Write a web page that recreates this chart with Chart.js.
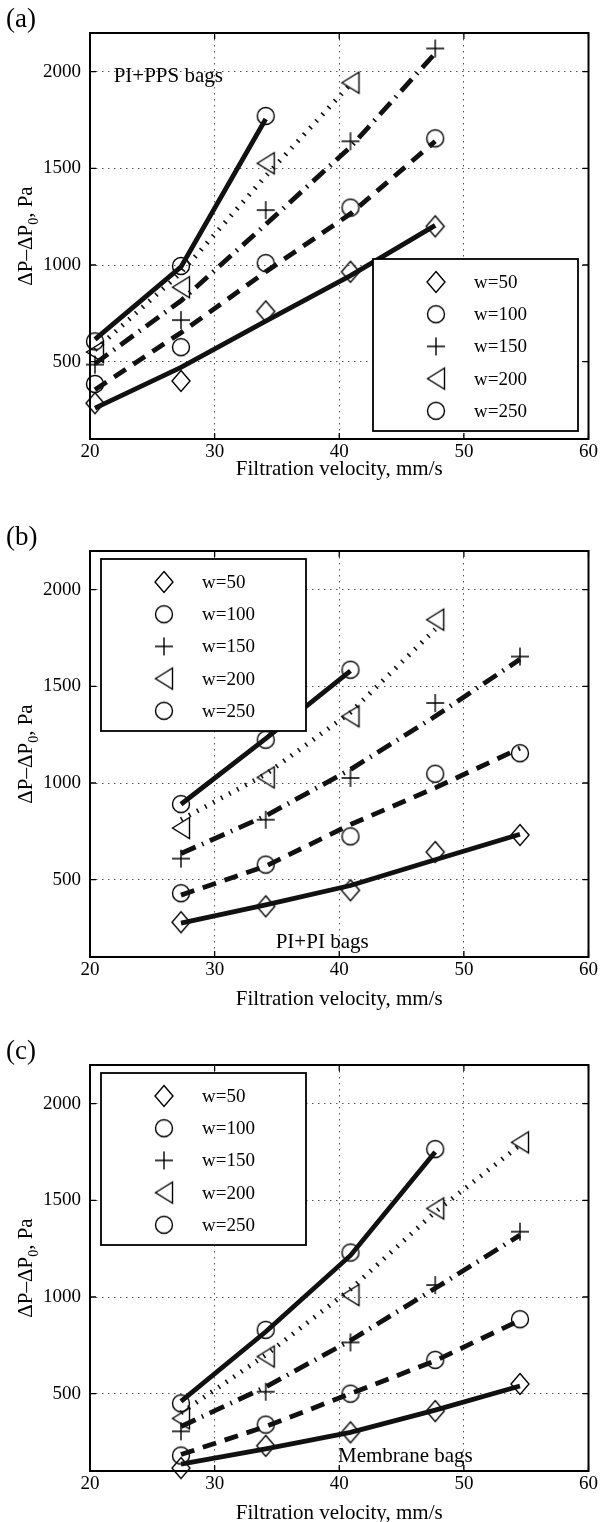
<!DOCTYPE html>
<html>
<head>
<meta charset="utf-8">
<script src="https://cdn.jsdelivr.net/npm/chart.js@4"></script>
<style>
  html, body { margin: 0; padding: 0; background: #fff; }
  body { width: 600px; height: 1522px; position: relative; overflow: hidden; }
  canvas { position: absolute; left: 0; }
</style>
</head>
<body>
<canvas id="panelA" width="600" height="500" style="top:0;width:600px;height:500px"></canvas>
<canvas id="panelB" width="600" height="514" style="top:518px;width:600px;height:514px"></canvas>
<canvas id="panelC" width="600" height="490" style="top:1032px;width:600px;height:490px"></canvas>
<script>
// axis ticks and legend labels
const X_TICKS = [20, 30, 40, 50, 60];
const Y_TICKS = [500, 1000, 1500, 2000];
const LEGEND_LABELS = ['w=50', 'w=100', 'w=150', 'w=200', 'w=250'];

// (a) PI+PPS bags
const A_X = [20.4, 27.3, 34.1, 40.9, 47.7];
const A_W50 = [285, 400, 760, 965, 1200];
const A_W100 = [385, 575, 1010, 1297, 1655];
const A_W150 = [485, 715, 1284, 1640, 2120];
const A_W200 = [550, 885, 1526, 1943];
const A_W250 = [605, 995, 1771];
const A_W50_FIT = [260, 470, 710, 945, 1205];
const A_W100_FIT = [355, 650, 965, 1265, 1640];
const A_W150_FIT = [490, 815, 1210, 1610, 2095];
const A_W200_FIT = [560, 960, 1460, 1935];
const A_W250_FIT = [615, 990, 1755];

// (b) PI+PI bags
const B_X = [27.3, 34.1, 40.9, 47.7, 54.5];
const B_W50 = [280, 362, 445, 643, 731];
const B_W100 = [430, 578, 724, 1048, 1154];
const B_W150 = [609, 810, 1026, 1414, 1654];
const B_W200 = [767, 1029, 1345, 1845];
const B_W250 = [891, 1224, 1586];
const B_W50_FIT = [275, 370, 470, 603, 735];
const B_W100_FIT = [420, 570, 785, 975, 1180];
const B_W150_FIT = [635, 830, 1070, 1345, 1640];
const B_W200_FIT = [810, 1045, 1365, 1795];
const B_W250_FIT = [890, 1230, 1580];

// (c) Membrane bags
const C_X = [27.3, 34.1, 40.9, 47.7, 54.5];
const C_W50 = [115, 230, 300, 410, 550];
const C_W100 = [180, 340, 500, 675, 885];
const C_W150 = [305, 510, 765, 1062, 1338];
const C_W200 = [372, 692, 1010, 1458, 1800];
const C_W250 = [450, 830, 1230, 1765];
const C_W50_FIT = [135, 215, 300, 415, 540];
const C_W100_FIT = [185, 330, 500, 670, 880];
const C_W150_FIT = [330, 535, 775, 1045, 1320];
const C_W200_FIT = [400, 700, 1040, 1440, 1785];
const C_W250_FIT = [460, 820, 1215, 1750];

const FONT = '"Liberation Serif", "Times New Roman", serif';
const SERIES_MARKER = ['diamond', 'circle', 'plus', 'triangle', 'circle'];
const SERIES_DASH = [[], [14, 9], [16, 7, 1.6, 7], [1.6, 7.5], []];

// hollow marker glyphs, matlab-ish
function makeMarker(kind) {
  const c = document.createElement('canvas');
  c.width = 22; c.height = 26;
  const g = c.getContext('2d');
  const cx = 11, cy = 13;
  g.strokeStyle = '#000';
  g.lineWidth = 1.4;
  g.beginPath();
  if (kind === 'diamond') {
    g.moveTo(cx, cy - 10.5); g.lineTo(cx + 9, cy); g.lineTo(cx, cy + 10.5); g.lineTo(cx - 9, cy); g.closePath();
  } else if (kind === 'circle') {
    g.arc(cx, cy, 8.5, 0, Math.PI * 2);
  } else if (kind === 'plus') {
    g.moveTo(cx - 9, cy); g.lineTo(cx + 9, cy); g.moveTo(cx, cy - 9); g.lineTo(cx, cy + 9);
  } else if (kind === 'triangle') {
    g.moveTo(cx - 8.5, cy); g.lineTo(cx + 8.5, cy - 10.5); g.lineTo(cx + 8.5, cy + 10.5); g.closePath();
  }
  g.stroke();
  return c;
}
const MARKERS = {
  diamond: makeMarker('diamond'),
  circle: makeMarker('circle'),
  plus: makeMarker('plus'),
  triangle: makeMarker('triangle')
};

const decorPlugin = {
  id: 'decor',
  afterDatasetsDraw(chart, args, o) {
    const ctx = chart.ctx;
    const area = chart.chartArea;
    const xs = chart.scales.x, ys = chart.scales.y;
    ctx.save();

    // box + inward ticks
    ctx.strokeStyle = '#000';
    ctx.lineWidth = 2;
    ctx.strokeRect(area.left, area.top, area.right - area.left, area.bottom - area.top);
    ctx.lineWidth = 1.3;
    ctx.beginPath();
    X_TICKS.forEach(v => {
      const px = xs.getPixelForValue(v);
      ctx.moveTo(px, area.bottom); ctx.lineTo(px, area.bottom - 6);
      ctx.moveTo(px, area.top); ctx.lineTo(px, area.top + 6);
    });
    Y_TICKS.forEach(v => {
      const py = ys.getPixelForValue(v);
      ctx.moveTo(area.left, py); ctx.lineTo(area.left + 6, py);
      ctx.moveTo(area.right, py); ctx.lineTo(area.right - 6, py);
    });
    ctx.stroke();

    // note inside the axes
    ctx.fillStyle = '#000';
    ctx.font = '21px ' + FONT;
    ctx.textAlign = 'left';
    ctx.textBaseline = 'alphabetic';
    ctx.fillText(o.note, xs.getPixelForValue(o.noteX), ys.getPixelForValue(o.noteY));

    // legend box
    const lx = area.left + o.legendLeft, ly = area.top + o.legendTop;
    ctx.fillStyle = '#fff';
    ctx.fillRect(lx, ly, 205, 172);
    ctx.lineWidth = 1.8;
    ctx.strokeStyle = '#000';
    ctx.strokeRect(lx, ly, 205, 172);
    ctx.font = '19px ' + FONT;
    ctx.textBaseline = 'middle';
    LEGEND_LABELS.forEach((lab, i) => {
      const cy = ly + 23 + i * 32.2;
      const m = MARKERS[SERIES_MARKER[i]];
      ctx.drawImage(m, lx + 63 - m.width / 2, cy - m.height / 2);
      ctx.fillStyle = '#000';
      ctx.fillText(lab, lx + 101, cy + 1);
    });

    // panel letter
    ctx.textBaseline = 'alphabetic';
    ctx.font = '27px ' + FONT;
    ctx.fillText(o.label, 6, area.top - 6);

    // x title
    ctx.font = '21px ' + FONT;
    ctx.textAlign = 'center';
    ctx.fillText('Filtration velocity, mm/s', (area.left + area.right) / 2, area.bottom + o.titleGap);

    // y title with subscript
    const parts = [['\u0394P\u2013\u0394P', 21, 0], ['0', 14, 6], [', Pa', 21, 0]];
    let total = 0;
    parts.forEach(p => { ctx.font = p[1] + 'px ' + FONT; total += ctx.measureText(p[0]).width; });
    ctx.translate(32, (area.top + area.bottom) / 2);
    ctx.rotate(-Math.PI / 2);
    ctx.textAlign = 'left';
    let cur = -total / 2;
    parts.forEach(p => {
      ctx.font = p[1] + 'px ' + FONT;
      ctx.fillText(p[0], cur, p[2]);
      cur += ctx.measureText(p[0]).width;
    });
    ctx.restore();
  }
};

function makePanel(id, xVals, values, fits, deco) {
  const canvas = document.getElementById(id);
  const H = canvas.height;
  const datasets = [];
  fits.forEach((vals, i) => {
    datasets.push({
      label: LEGEND_LABELS[i] + ' fit',
      data: vals.map((v, k) => ({ x: xVals[k], y: v })),
      showLine: true,
      borderColor: '#111',
      borderWidth: 4.8,
      borderDash: SERIES_DASH[i],
      pointRadius: 0,
      tension: 0,
      fill: false
    });
  });
  values.forEach((vals, i) => {
    datasets.push({
      label: LEGEND_LABELS[i],
      data: vals.map((v, k) => ({ x: xVals[k], y: v })),
      showLine: false,
      pointStyle: MARKERS[SERIES_MARKER[i]],
      pointRadius: 5,
      clip: false
    });
  });

  const tickFont = { family: FONT, size: 19 };
  new Chart(canvas, {
    type: 'scatter',
    data: { datasets: datasets },
    options: {
      responsive: false,
      animation: false,
      devicePixelRatio: 1,
      events: [],
      layout: { padding: { top: 33, right: 10, left: 0, bottom: 0 } },
      plugins: {
        legend: { display: false },
        tooltip: { enabled: false },
        decor: deco
      },
      scales: {
        x: {
          type: 'linear',
          min: 20,
          max: 60,
          afterBuildTicks: s => { s.ticks = X_TICKS.map(v => ({ value: v })); },
          afterFit: s => { s.height = H - 439; },
          grid: { color: '#555', lineWidth: 1, drawTicks: false, borderDash: [1.5, 4.5] },
          border: { display: false, dash: [1.5, 4.5] },
          ticks: { font: tickFont, color: '#000', padding: 2, maxRotation: 0, autoSkip: false, callback: v => String(v) }
        },
        y: {
          type: 'linear',
          min: 100,
          max: 2200,
          afterBuildTicks: s => { s.ticks = Y_TICKS.map(v => ({ value: v })); },
          afterFit: s => { s.width = 90; },
          grid: { color: '#555', lineWidth: 1, drawTicks: false, borderDash: [1.5, 4.5] },
          border: { display: false, dash: [1.5, 4.5] },
          ticks: { font: tickFont, color: '#000', padding: 9, autoSkip: false, callback: v => String(v) }
        }
      }
    },
    plugins: [decorPlugin]
  });
}

makePanel('panelA', A_X,
  [A_W50, A_W100, A_W150, A_W200, A_W250],
  [A_W50_FIT, A_W100_FIT, A_W150_FIT, A_W200_FIT, A_W250_FIT],
  { label: '(a)', note: 'PI+PPS bags', noteX: 21.9, noteY: 1945, legendLeft: 283, legendTop: 226, titleGap: 36 });

makePanel('panelB', B_X,
  [B_W50, B_W100, B_W150, B_W200, B_W250],
  [B_W50_FIT, B_W100_FIT, B_W150_FIT, B_W200_FIT, B_W250_FIT],
  { label: '(b)', note: 'PI+PI bags', noteX: 34.9, noteY: 147, legendLeft: 11, legendTop: 8, titleGap: 48 });

makePanel('panelC', C_X,
  [C_W50, C_W100, C_W150, C_W200, C_W250],
  [C_W50_FIT, C_W100_FIT, C_W150_FIT, C_W200_FIT, C_W250_FIT],
  { label: '(c)', note: 'Membrane bags', noteX: 39.9, noteY: 147, legendLeft: 11, legendTop: 8, titleGap: 48 });
</script>
</body>
</html>
